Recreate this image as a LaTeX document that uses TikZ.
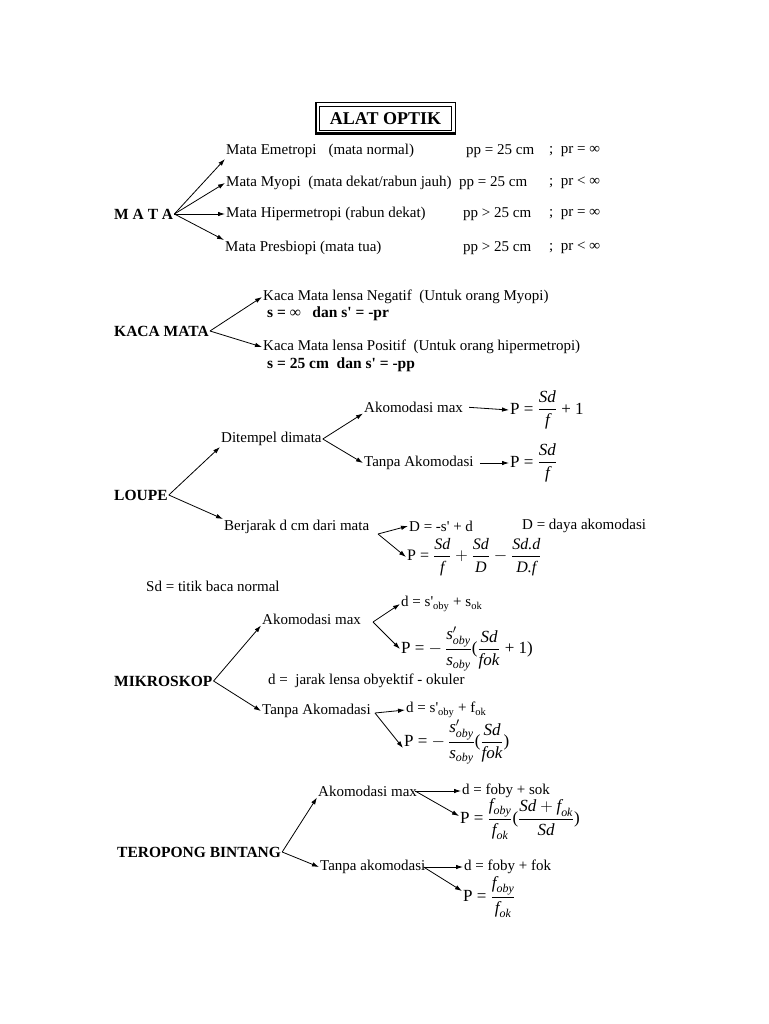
\documentclass[tikz,border=0pt]{standalone}
\usepackage{amsmath}
\usepackage{fontspec}
\setmainfont{Liberation Serif}
\usetikzlibrary{arrows.meta}
\newcommand{\iv}[1]{\textit{#1}}
\newcommand{\ap}{\textquotesingle}

\begin{document}
\begin{tikzpicture}[x=1pt,y=-1pt]
\tikzstyle{txt}=[anchor=west, inner sep=1pt, font=\fontsize{15}{17}\selectfont]
\tikzstyle{hd}=[anchor=west, inner sep=1pt, font=\fontsize{15.5}{17}\selectfont\bfseries]
\tikzstyle{rumus}=[anchor=west, inner sep=1pt, font=\fontsize{17}{19}\selectfont]
\tikzstyle{arr}=[-{Latex[length=7pt,width=4.5pt]}, line width=0.8pt]
\useasboundingbox (0,0) rectangle (768,1024);

% judul
\node[draw, line width=0.6pt, minimum width=132, minimum height=24,
      font=\fontsize{18}{20}\selectfont\bfseries] (judul) at (385.5,118.5) {ALAT OPTIK};
\draw[line width=1.6pt] ([shift={(-3.5,-3.5)}]judul.north west) rectangle ([shift={(3.5,3.5)}]judul.south east);
\draw[line width=2.5pt] ([shift={(-3,2.5)}]judul.south west) -- ([shift={(3,2.5)}]judul.south east);

% mata
\node[hd] (mata) at (113,214) {M A T A};
\node[txt] (em) at (225,151) {Mata Emetropi\hspace{12pt}(mata normal)};
\node[txt] (my) at (225,183) {Mata Myopi\ \ (mata dekat/rabun jauh)};
\node[txt] (hi) at (225,214) {Mata Hipermetropi (rabun dekat)};
\node[txt] (pb) at (224,248) {Mata Presbiopi (mata tua)};
\node[txt] (em-pp) at (465,151) {pp = 25 cm};
\node[txt] (my-pp) at (458,183) {pp = 25 cm};
\node[txt] (hi-pp) at (462,214) {pp > 25 cm};
\node[txt] (pb-pp) at (462,248) {pp > 25 cm};
\node[txt] (em-pr) at (548,151) {;\ \ pr = ∞};
\node[txt] (my-pr) at (548,183) {;\ \ pr < ∞};
\node[txt] (hi-pr) at (548,214) {;\ \ pr = \textbf{∞}};
\node[txt] (pb-pr) at (548,248) {;\ \ pr < \textbf{∞}};
\draw[arr] (mata.east) -- (em.south west);
\draw[arr] (mata.east) -- (my.west);
\draw[arr] (mata.east) -- (hi.west);
\draw[arr] (mata.east) -- (pb.north west);

% kaca mata
\node[hd] (km) at (113,331) {KACA MATA};
\node[txt] (neg) at (262,297) {Kaca Mata lensa Negatif\ \ (Untuk orang Myopi)};
\node[hd] (neg-s) at (266,314) {s = ∞\ \ \ dan s\ap{} = -pr};
\node[txt] (pos) at (262,347) {Kaca Mata lensa Positif\ \ (Untuk orang hipermetropi)};
\node[hd] (pos-s) at (266,365) {s = 25 cm\ \ dan s\ap{} = -pp};
\draw[arr] (km.east) -- (neg.west);
\draw[arr] (km.east) -- (pos.west);

% loupe
\node[hd] (lp) at (113,495) {LOUPE};
\node[txt] (dit) at (220,439) {Ditempel dimata};
\node[txt] (dit-max) at (363,407) {Akomodasi max};
\node[rumus] (dit-max-P) at (509,410) {P = $\dfrac{\iv{Sd}}{\iv{f}}$ + 1};
\node[txt] (dit-tak) at (363,463) {Tanpa Akomodasi};
\node[rumus] (dit-tak-P) at (509,463) {P = $\dfrac{\iv{Sd}}{\iv{f}}$};
\node[txt] (ber) at (223,527) {Berjarak d cm dari mata};
\coordinate (ber-c) at (378,534);
\node[txt] (ber-D) at (408,526) {D = -s\ap{} + d};
\node[txt] (ber-Dk) at (521,526) {D = daya akomodasi};
\node[rumus, font=\fontsize{16}{18}\selectfont] (ber-P) at (406,557) {P = $\dfrac{\iv{Sd}}{\iv{f}} + \dfrac{\iv{Sd}}{\iv{D}} - \dfrac{\iv{Sd.d}}{\iv{D.f}}$};
\node[txt] (sd) at (145,586) {Sd = titik baca normal};
\draw[arr] (lp.east) -- (dit.south west);
\draw[arr] (lp.east) -- (ber.north west);
\draw[arr] (dit.east) -- (dit-max.south west);
\draw[arr] (dit.east) -- (dit-tak.west);
\draw[arr, shorten <=5pt] (dit-max.east) -- (dit-max-P.west);
\draw[arr, shorten <=5pt] (dit-tak.east) -- (dit-tak-P.west);
\draw[arr] (ber-c) -- (ber-D.west);
\draw[arr] (ber-c) -- (ber-P.west);

% mikroskop
\node[hd] (mk) at (113,681) {MIKROSKOP};
\node[txt] (mk-max) at (261,619) {Akomodasi max};
\coordinate (mk-max-c) at (373,622);
\node[txt] (mk-max-d) at (400,604) {d = s\ap\textsubscript{oby} + s\textsubscript{ok}};
\node[rumus] (mk-max-P) at (400,649) {P = $-\,\dfrac{\iv{s}^{\prime}_{\iv{oby}}}{\iv{s}_{\iv{oby}}}$($\dfrac{\iv{Sd}}{\iv{fok}}$ + 1)};
\node[txt] (mk-d) at (267,681) {d =\ \ jarak lensa obyektif - okuler};
\node[txt] (mk-tak) at (261,711) {Tanpa Akomadasi};
\coordinate (mk-tak-c) at (375,713);
\node[txt] (mk-tak-d) at (405,710) {d = s\ap\textsubscript{oby} + f\textsubscript{ok}};
\node[rumus] (mk-tak-P) at (403,742) {P = $-\,\dfrac{\iv{s}^{\prime}_{\iv{oby}}}{\iv{s}_{\iv{oby}}}$($\dfrac{\iv{Sd}}{\iv{fok}}$)};
\draw[arr] (mk.east) -- (mk-max.south west);
\draw[arr] (mk.east) -- (mk-tak.west);
\draw[arr] (mk-max-c) -- (mk-max-d.west);
\draw[arr] (mk-max-c) -- (mk-max-P.west);
\draw[arr] (mk-tak-c) -- (mk-tak-d.west);
\draw[arr] (mk-tak-c) -- ([yshift=-6pt]mk-tak-P.west);

% teropong bintang
\node[hd] (tb) at (116,852) {TEROPONG BINTANG};
\node[txt] (tb-max) at (317,791) {Akomodasi max};
\node[txt] (tb-max-d) at (461,791) {d = foby + sok};
\node[rumus] (tb-max-P) at (459,819) {P = $\dfrac{\iv{f}_{\iv{oby}}}{\iv{f}_{\iv{ok}}}$($\dfrac{\iv{Sd} + \iv{f}_{\iv{ok}}}{\iv{Sd}}$)};
\node[txt] (tb-tak) at (319,867) {Tanpa akomodasi};
\node[txt] (tb-tak-d) at (463,867) {d = foby + fok};
\node[rumus] (tb-tak-P) at (462,897) {P = $\dfrac{\iv{f}_{\iv{oby}}}{\iv{f}_{\iv{ok}}}$};
\draw[arr] (tb.east) -- (tb-max.south west);
\draw[arr] (tb.east) -- (tb-tak.west);
\draw[arr] ([xshift=-3pt]tb-max.east) -- (tb-max-d.west);
\draw[arr] ([xshift=-3pt]tb-max.east) -- ([yshift=3pt]tb-max-P.west);
\draw[arr] ([xshift=-3pt]tb-tak.east) -- (tb-tak-d.west);
\draw[arr] ([xshift=-3pt]tb-tak.east) -- ([yshift=6pt]tb-tak-P.west);
\end{tikzpicture}
\end{document}
